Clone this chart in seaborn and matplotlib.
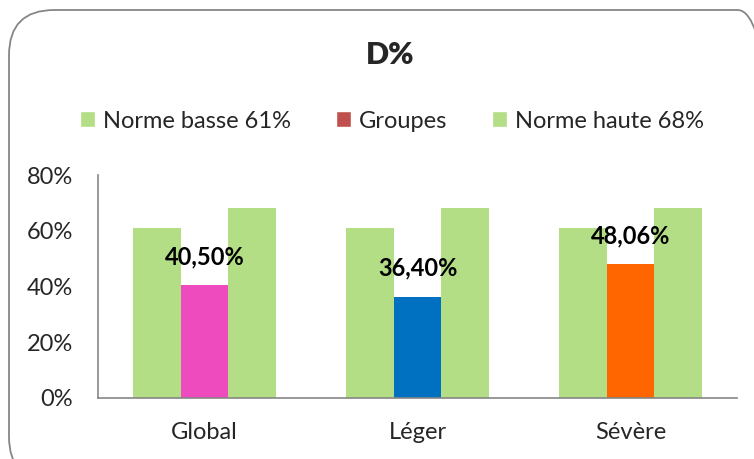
import pandas as pd
import matplotlib.pyplot as plt
import seaborn as sns
from matplotlib.patches import FancyBboxPatch, Patch

# Données du graphique
categories = ['Global', 'Léger', 'Sévère']
norme_basse = [61, 61, 61]
groupes = [40.50, 36.40, 48.06]
norme_haute = [68, 68, 68]
etiquettes = ['40,50%', '36,40%', '48,06%']
series = ['Norme basse 61%', 'Groupes', 'Norme haute 68%']

vert = '#B3DE85'
couleurs_groupes = ['#EE4BBE', '#0070C0', '#FF6600']
rouge_legende = '#C0504D'
gris = '#868686'

df = pd.DataFrame({
    'categorie': categories * 3,
    'serie': [series[0]] * 3 + [series[1]] * 3 + [series[2]] * 3,
    'valeur': norme_basse + groupes + norme_haute,
})

sns.set_style('white')
plt.rcParams['font.family'] = ['Lato', 'DejaVu Sans']

W, H = 754, 459
fig = plt.figure(figsize=(W / 100, H / 100), dpi=100)
ax = fig.add_axes([98 / W, 1 - 398 / H, (737 - 98) / W, (398 - 175) / H])

sns.barplot(data=df, x='categorie', y='valeur', hue='serie', order=categories,
            hue_order=series, palette=[vert, rouge_legende, vert],
            width=0.67, gap=0, saturation=1, linewidth=0, ax=ax, legend=False)

# Couleur propre à chaque barre du groupe
for patch, c in zip(ax.containers[1], couleurs_groupes):
    patch.set_facecolor(c)

# Étiquettes des groupes
for patch, txt in zip(ax.containers[1], etiquettes):
    ax.annotate(txt, (patch.get_x() + patch.get_width() / 2, patch.get_height()),
                xytext=(0, 12), textcoords='offset points', ha='center', va='bottom',
                fontsize=17, fontweight='bold', color='black')

ax.set_ylim(0, 80)
ax.set_xlim(-0.5, 2.5)
ax.set_yticks([0, 20, 40, 60, 80])
ax.set_yticklabels([f'{v}%' for v in [0, 20, 40, 60, 80]])
ax.set_xticks([-0.5, 0.5, 1.5, 2.5])
ax.set_xticklabels([])
ax.set_xticks([0, 1, 2], minor=True)
ax.set_xticklabels(categories, minor=True)
ax.tick_params(axis='x', which='major', length=6, width=1.2, color=gris, direction='out')
ax.tick_params(axis='x', which='minor', length=0, pad=17, labelsize=17)
ax.tick_params(axis='y', length=6, width=1.2, color=gris, direction='out', pad=12, labelsize=17)
ax.set_xlabel('')
ax.set_ylabel('')
for s in ['top', 'right']:
    ax.spines[s].set_visible(False)
for s in ['left', 'bottom']:
    ax.spines[s].set_color(gris)
    ax.spines[s].set_linewidth(1.2)

# Titre
fig.text(390 / W, 1 - 55 / H, 'D%', ha='center', va='center', fontsize=22, fontweight='heavy')

# Légende
poignees = [Patch(facecolor=vert), Patch(facecolor=rouge_legende), Patch(facecolor=vert)]
fig.legend(poignees, series, loc='center', bbox_to_anchor=(392 / W, 1 - 121 / H),
           ncol=3, frameon=False, fontsize=17, handlelength=0.63, handleheight=0.63,
           handletextpad=0.35, columnspacing=1.9)

# Cadre arrondi
cadre = FancyBboxPatch((9 / W, -0.05), (W + 20) / W, 1 - 10 / H + 0.05,
                       boxstyle='round,pad=0,rounding_size=0.06', transform=fig.transFigure,
                       facecolor='none', edgecolor=gris, linewidth=1.3,
                       mutation_aspect=W / H)
fig.patches.append(cadre)

fig.savefig('out.png', dpi=100)
